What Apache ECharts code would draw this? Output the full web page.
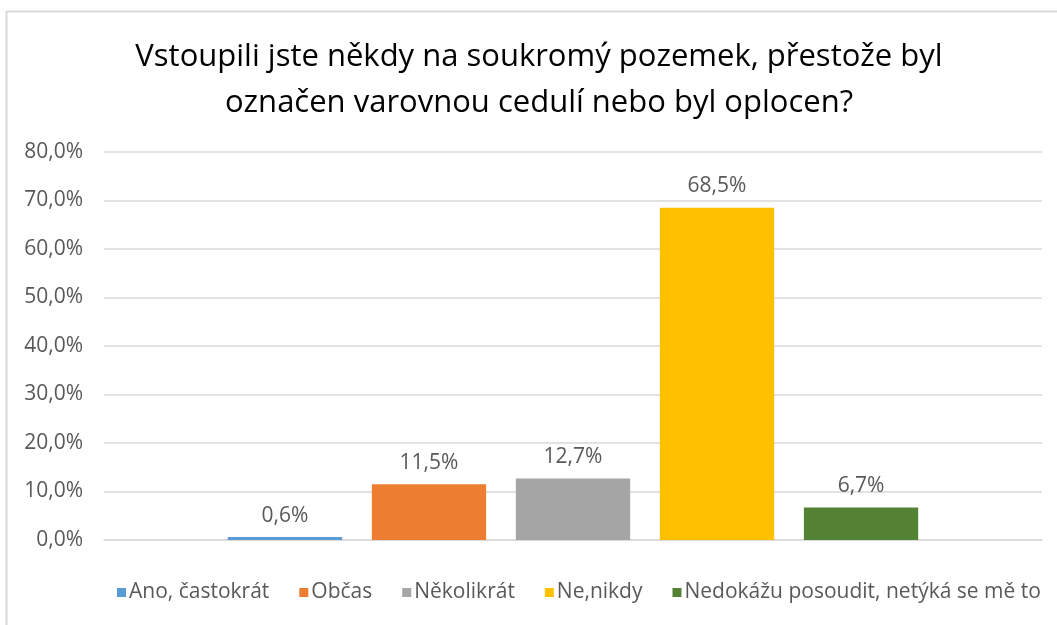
<!DOCTYPE html>
<html>
<head>
<meta charset="utf-8">
<script src="https://cdn.jsdelivr.net/npm/echarts@6/dist/echarts.min.js"></script>
<style>
  html, body { margin: 0; padding: 0; background: #ffffff; }
  #chart { width: 1057px; height: 625px; }
</style>
</head>
<body>
<div id="chart"></div>
<script>
// Survey answers: one bar per answer, all in a single cluster
const seriesNames = ['Ano, častokrát', 'Občas', 'Několikrát', 'Ne,nikdy', 'Nedokážu posoudit, netýká se mě to'];
const seriesValues = [0.6, 11.5, 12.7, 68.5, 6.7];
const seriesColors = ['#5B9BD5', '#ED7D31', '#A5A5A5', '#FFC000', '#548235'];
const categories = [''];
const titleText = 'Vstoupili jste někdy na soukromý pozemek, přestože byl\noznačen varovnou cedulí nebo byl oplocen?';

const FONT = '"Open Sans", sans-serif';
const fmt = v => v.toFixed(1).replace('.', ',') + '%';

const chart = echarts.init(document.getElementById('chart'), null, { renderer: 'canvas' });

const series = seriesNames.map((name, i) => ({
  name: name,
  type: 'bar',
  data: [seriesValues[i]],
  itemStyle: { color: seriesColors[i] },
  barGap: '26%',
  barCategoryGap: '26.4%',
  label: {
    show: true,
    position: 'top',
    distance: 11,
    formatter: p => fmt(p.value),
    color: '#595959',
    fontSize: 21,
    fontFamily: FONT
  }
}));

chart.setOption({
  animation: false,
  backgroundColor: '#ffffff',
  graphic: [{
    type: 'rect',
    shape: { x: 6.5, y: 11.5, width: 1080, height: 700 },
    style: { fill: 'none', stroke: '#D9D9D9', lineWidth: 2 },
    silent: true
  }, {
    // chart title, each line centred on the same axis
    type: 'text',
    x: 539,
    y: 34,
    silent: true,
    style: {
      text: titleText,
      textAlign: 'center',
      textVerticalAlign: 'top',
      fill: '#000000',
      fontSize: 31,
      fontFamily: FONT,
      lineHeight: 46
    }
  }],
  legend: {
    bottom: 17,
    left: 112,
    itemWidth: 9,
    itemHeight: 9,
    itemGap: 30,
    icon: 'rect',
    textStyle: { color: '#595959', fontSize: 21, fontFamily: FONT, padding: [0, 0, 0, -2] },
    data: seriesNames
  },
  grid: { left: 104, right: 15, top: 152, bottom: 85, containLabel: false },
  xAxis: {
    type: 'category',
    data: categories,
    axisLine: { show: true, lineStyle: { color: '#D9D9D9', width: 1.5 } },
    axisTick: { show: false },
    axisLabel: { show: false }
  },
  yAxis: {
    type: 'value',
    min: 0,
    max: 80,
    interval: 10,
    axisLine: { show: false },
    axisTick: { show: false },
    splitLine: { lineStyle: { color: '#D9D9D9', width: 1.5 } },
    axisLabel: {
      formatter: v => fmt(v),
      color: '#595959',
      fontSize: 21,
      fontFamily: FONT,
      margin: 21
    }
  },
  series: series
});
</script>
</body>
</html>
